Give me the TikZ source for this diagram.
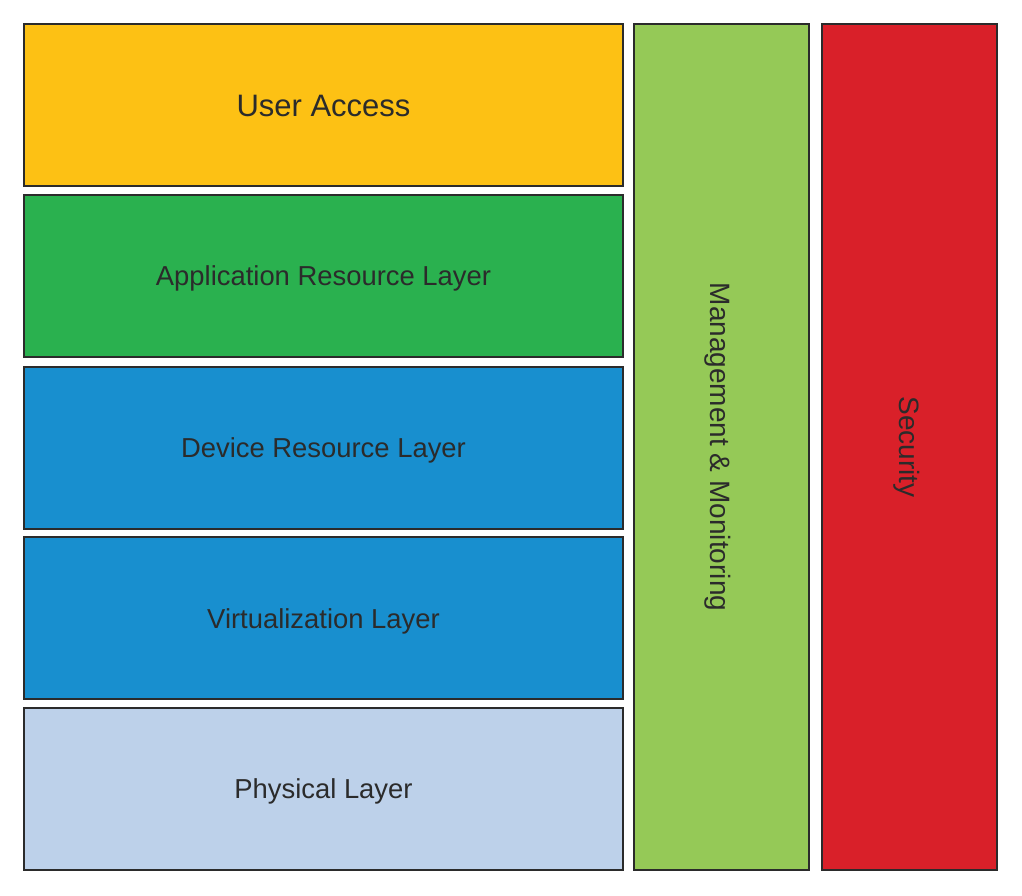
\documentclass[tikz,border=0pt]{standalone}
\usepackage{fontspec}
\setmainfont{Liberation Sans}
\usepackage{pgf,tikz}
\usetikzlibrary{positioning}
\definecolor{access}{HTML}{FDC114}
\definecolor{appres}{HTML}{2AB14F}
\definecolor{devres}{HTML}{188FCF}
\definecolor{physic}{HTML}{BDD1EA}
\definecolor{manage}{HTML}{95C957}
\definecolor{secure}{HTML}{D92029}
\definecolor{ink}{HTML}{2B2B2B}
\begin{document}
\begin{tikzpicture}[x=0.5pt,y=-0.5pt,line width=1pt,
  layerbox/.style={draw=ink,text=ink,minimum width=299.5pt,minimum height=81pt,inner sep=0pt,text height=10pt,text depth=0pt,font=\fontsize{13.7}{16}\selectfont},
  columnbox/.style={draw=ink,minimum width=87.5pt,minimum height=423pt,inner sep=0pt},
  sidelabel/.style={rotate=-90,text=ink,font=\fontsize{14}{16}\selectfont}]
\useasboundingbox (0,0) rectangle (1022,895);
\node [layerbox,fill=access,text height=11pt,font=\fontsize{15.5}{18}\selectfont] (ua) at (323.5,105) {User Access};
\node [layerbox,fill=appres] (arl) at (323.5,275.5) {Application Resource Layer};
\node [layerbox,fill=devres] (drl) at (323.5,447.5) {Device Resource Layer};
\node [layerbox,fill=devres] (vl) at (323.5,618) {Virtualization Layer};
\node [layerbox,fill=physic] (pl) at (323.5,788.5) {Physical Layer};
\node [columnbox,fill=manage] (mm) at (721,447) {};
\node [columnbox,fill=secure] (sec) at (909.5,447) {};
\node [sidelabel] (mmtext) at ([xshift=-1.5pt]mm.center) {Management \& Monitoring};
\node [sidelabel] (sectext) at ([xshift=-1.5pt]sec.center) {Security};
\end{tikzpicture}
\end{document}
